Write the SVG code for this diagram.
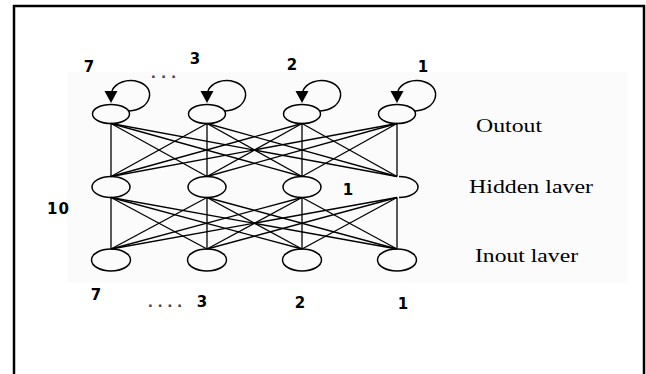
<svg xmlns="http://www.w3.org/2000/svg" xmlns:xlink="http://www.w3.org/1999/xlink" width="646" height="374" viewBox="0 0 646 374">
<style>
.n{fill:none;stroke:#000;stroke-width:1.5}
.e line{stroke:#000;stroke-width:1.3}
.lp{fill:none;stroke:#000;stroke-width:1.5}
.num{font-family:"DejaVu Sans","Liberation Sans",sans-serif;font-weight:bold;font-size:15px;fill:#000}
.dots{font-family:"Liberation Sans",sans-serif;font-weight:bold;font-size:17px;fill:#444}
.lab{font-family:"Liberation Serif","Times New Roman",serif;font-size:18px;fill:#000}
</style>
<defs>
<g id="loop">
<path class="lp" d="M18 -3 C40 -4 46 -26 28 -32 C16 -36 4 -31 1 -23"/>
<polygon points="-6.5,-23 6.5,-23 0,-11" fill="#000"/>
</g>
</defs>
<rect x="0" y="0" width="646" height="374" fill="#fff"/>
<rect x="67" y="72" width="560" height="211" fill="#fbfbfb"/>
<path d="M14 374 V6 H644 V374" fill="none" stroke="#000" stroke-width="2.5"/>

<g id="connectors" class="e">
<line x1="111" y1="123.5" x2="111" y2="176.5"/><line x1="111" y1="123.5" x2="207" y2="176.5"/><line x1="111" y1="123.5" x2="302" y2="176.5"/><line x1="111" y1="123.5" x2="397" y2="176.5"/>
<line x1="207" y1="123.5" x2="111" y2="176.5"/><line x1="207" y1="123.5" x2="207" y2="176.5"/><line x1="207" y1="123.5" x2="302" y2="176.5"/><line x1="207" y1="123.5" x2="397" y2="176.5"/>
<line x1="302" y1="123.5" x2="111" y2="176.5"/><line x1="302" y1="123.5" x2="207" y2="176.5"/><line x1="302" y1="123.5" x2="302" y2="176.5"/><line x1="302" y1="123.5" x2="397" y2="176.5"/>
<line x1="397" y1="123.5" x2="111" y2="176.5"/><line x1="397" y1="123.5" x2="207" y2="176.5"/><line x1="397" y1="123.5" x2="302" y2="176.5"/><line x1="397" y1="123.5" x2="397" y2="176.5"/>
<line x1="111" y1="197.5" x2="111" y2="249"/><line x1="111" y1="197.5" x2="207" y2="249"/><line x1="111" y1="197.5" x2="302" y2="249"/><line x1="111" y1="197.5" x2="397" y2="249"/>
<line x1="207" y1="197.5" x2="111" y2="249"/><line x1="207" y1="197.5" x2="207" y2="249"/><line x1="207" y1="197.5" x2="302" y2="249"/><line x1="207" y1="197.5" x2="397" y2="249"/>
<line x1="302" y1="197.5" x2="111" y2="249"/><line x1="302" y1="197.5" x2="207" y2="249"/><line x1="302" y1="197.5" x2="302" y2="249"/><line x1="302" y1="197.5" x2="397" y2="249"/>
<line x1="397" y1="197.5" x2="111" y2="249"/><line x1="397" y1="197.5" x2="207" y2="249"/><line x1="397" y1="197.5" x2="302" y2="249"/><line x1="397" y1="197.5" x2="397" y2="249"/>
<use xlink:href="#loop" href="#loop" transform="translate(111 114)"/>
<use xlink:href="#loop" href="#loop" transform="translate(207 114)"/>
<use xlink:href="#loop" href="#loop" transform="translate(302 114)"/>
<use xlink:href="#loop" href="#loop" transform="translate(397 114)"/>
</g>

<g id="out7"><ellipse class="n" cx="111" cy="114" rx="18.5" ry="9.5"/></g>
<g id="out3"><ellipse class="n" cx="207" cy="114" rx="18.5" ry="9.5"/></g>
<g id="out2"><ellipse class="n" cx="302" cy="114" rx="18.5" ry="9.5"/></g>
<g id="out1"><ellipse class="n" cx="397" cy="114" rx="18.5" ry="9.5"/></g>
<g id="hid7"><ellipse class="n" cx="111" cy="187" rx="19" ry="10.5"/></g>
<g id="hid3"><ellipse class="n" cx="207" cy="187" rx="19" ry="10.5"/></g>
<g id="hid2"><ellipse class="n" cx="302" cy="187" rx="19" ry="10.5"/></g>
<g id="hid1"><path class="n" d="M399 176.5 A19 10.5 0 0 1 399 197.5"/></g>
<g id="in7"><ellipse class="n" cx="111" cy="260" rx="19.5" ry="11"/></g>
<g id="in3"><ellipse class="n" cx="207" cy="260" rx="19.5" ry="11"/></g>
<g id="in2"><ellipse class="n" cx="302" cy="260" rx="19.5" ry="11"/></g>
<g id="in1"><ellipse class="n" cx="397" cy="260" rx="19.5" ry="11"/></g>

<g id="labels">
<text class="num" x="89" y="72" text-anchor="middle">7</text>
<text class="dots" x="151" y="78" textLength="25">...</text>
<text class="num" x="195" y="64" text-anchor="middle">3</text>
<text class="num" x="292" y="70" text-anchor="middle">2</text>
<text class="num" x="423" y="72" text-anchor="middle">1</text>
<text class="num" x="47" y="214" letter-spacing="1">10</text>
<text class="num" x="348" y="195" text-anchor="middle">1</text>
<text class="num" x="96" y="300" text-anchor="middle">7</text>
<text class="dots" x="148" y="307" textLength="34">....</text>
<text class="num" x="202" y="307" text-anchor="middle">3</text>
<text class="num" x="300" y="308" text-anchor="middle">2</text>
<text class="num" x="403" y="309" text-anchor="middle">1</text>
<text class="lab" x="476" y="132" textLength="66" lengthAdjust="spacingAndGlyphs">Outout</text>
<text class="lab" x="469" y="193" textLength="124" lengthAdjust="spacingAndGlyphs">Hidden laver</text>
<text class="lab" x="475" y="262" textLength="103" lengthAdjust="spacingAndGlyphs">Inout laver</text>
</g>
</svg>
